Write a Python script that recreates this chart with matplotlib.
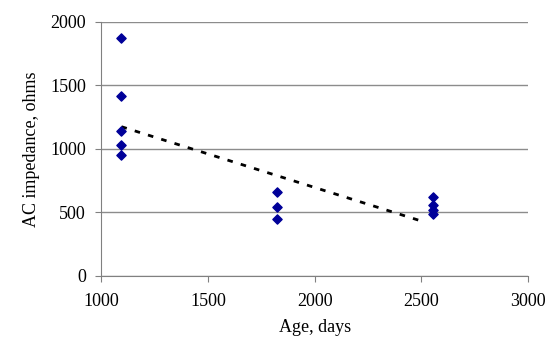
import matplotlib.pyplot as plt

plt.rcParams['font.family'] = ['Liberation Serif', 'DejaVu Serif']

# dados
idade = [1095, 1095, 1095, 1095, 1095,
         1825, 1825, 1825,
         2555, 2555, 2555, 2555]
impedancia = [1875, 1415, 1145, 1030, 950,
              665, 545, 450,
              620, 555, 520, 490]

# linha de tendencia (pontilhada)
tendencia_x = [1095, 2505]
tendencia_y = [1175, 430]

fig = plt.figure(figsize=(5.5, 3.42), dpi=100)
ax = fig.add_axes([0.184, 0.193, 0.776, 0.743])

ax.plot(tendencia_x, tendencia_y, color='black', linestyle=(0, (2, 3)), linewidth=2)
ax.scatter(idade, impedancia, marker='D', s=22, color='#000099', zorder=3)

ax.set_xlim(1000, 3000)
ax.set_ylim(0, 2000)
ax.set_xticks([1000, 1500, 2000, 2500, 3000])
ax.set_yticks([0, 500, 1000, 1500, 2000])
ax.yaxis.grid(True, color='#8c8c8c', linewidth=1)
ax.set_axisbelow(True)

for lado in ['top', 'right']:
    ax.spines[lado].set_visible(False)
for lado in ['left', 'bottom']:
    ax.spines[lado].set_color('#808080')
ax.tick_params(direction='out', length=4, color='#808080', labelsize=13)
ax.tick_params(axis='x', pad=8)
ax.tick_params(axis='y', pad=7)

ax.set_xlabel('Age, days', fontsize=13, labelpad=7)
ax.set_ylabel('AC impedance, ohms', fontsize=13, labelpad=7)

fig.savefig('out.png', dpi=100)
